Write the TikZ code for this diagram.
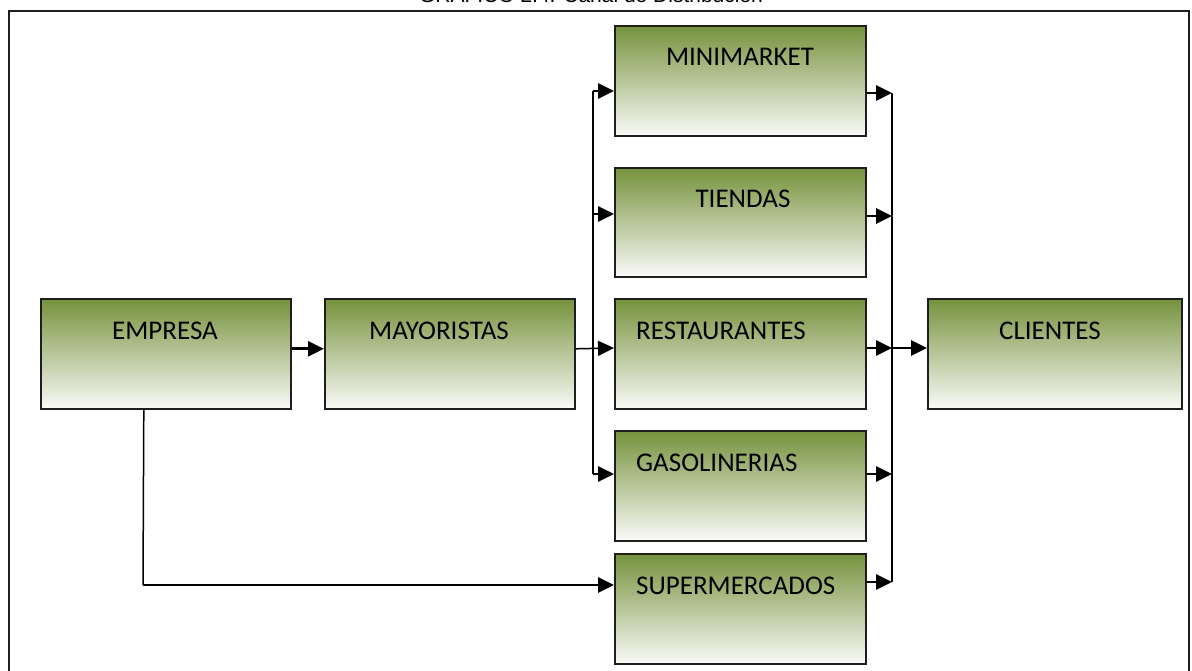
\documentclass[tikz,border=0pt]{standalone}
\usepackage{fontspec}
\setmainfont{Carlito}
\newfontfamily\titlefont{Liberation Sans}
\usetikzlibrary{arrows.meta}
\definecolor{olv}{RGB}{118,146,60}
\definecolor{olvmid}{RGB}{204,214,188}
\definecolor{olvbot}{RGB}{250,250,248}
\definecolor{edgec}{RGB}{30,30,30}
\begin{document}
\begin{tikzpicture}[x=1pt,y=-1pt,
  box/.style={draw=edgec,line width=1.6pt,top color=olv,middle color=olvmid,bottom color=olvbot,
    minimum width=250pt,minimum height=110pt,anchor=north west,inner sep=0pt},
  lbl/.style={font=\fontsize{27}{30}\selectfont,text=black,anchor=base,inner sep=0pt},
  lblw/.style={lbl,anchor=base west},
  tip/.style={-{Triangle[length=16pt,width=15pt]}},
  thk/.style={line width=2.8pt,tip},
  thn/.style={line width=1.5pt}]
\useasboundingbox (0,0) rectangle (1192,671);
\begin{scope}
\clip (0,0) rectangle (1192,671);
\node[font=\titlefont\fontsize{21}{24}\selectfont,anchor=base,inner sep=0pt] (title) at (591,3) {GRAFICO 2.4: Canal de Distribución};
\draw[line width=1.6pt,edgec] (9,700) -- (9,11) -- (1189,11) -- (1189,700);
\end{scope}

% boxes
\node[box] (emp) at (40,298) {};
\node[box] (may) at (324,298) {};
\node[box,minimum width=251pt] (mini) at (614,25) {};
\node[box,minimum width=251pt,minimum height=109pt] (tie) at (614,167) {};
\node[box,minimum width=251pt] (res) at (614,298) {};
\node[box,minimum width=251pt] (gas) at (614,430) {};
\node[box,minimum width=251pt] (sup) at (614,553) {};
\node[box,minimum width=254pt] (cli) at (927,298) {};

% labels
\node[lbl] (empt) at (165,339) {EMPRESA};
\node[lbl] (mayt) at (439,339) {MAYORISTAS};
\node[lbl] (minit) at (740,66) {MINIMARKET};
\node[lbl] (tiet) at (743,208) {TIENDAS};
\node[lblw] (rest) at (636,339) {RESTAURANTES};
\node[lblw] (gast) at (636,471) {GASOLINERIAS};
\node[lblw] (supt) at (636,594) {SUPERMERCADOS};
\node[lbl] (clit) at (1050,339) {CLIENTES};

% coordinates
\coordinate (lbt) at (593,91);
\coordinate (lb2) at (593,214);
\coordinate (lb3) at (593,348);
\coordinate (lbg) at (593,474);
\coordinate (ed) at (143,585);
\coordinate (rbt) at (892,93);
\coordinate (rb2) at (892,216);
\coordinate (rb3) at (892,348);
\coordinate (rb4) at (892,474);
\coordinate (rbb) at (892,582);

% connectors
\draw[thk] ([yshift=5pt]emp.east) -- ([yshift=5pt]may.west);
\draw[thn] (lbt) -- (lbg);
\draw[thk] (lbt) -- (mini.west |- lbt);
\draw[thk] (lb2) -- (tie.west |- lb2);
\draw[thn,tip] ([yshift=5pt]may.east) -- (res.west |- lb3);
\draw[thk] (lbg) -- (gas.west |- lbg);
\draw[thn] ([xshift=-22pt]emp.south) -- (ed);
\draw[thk] (ed) -- (sup.west |- ed);

\draw[thn] (rbt) -- (rbb);
\draw[thk] (mini.east |- rbt) -- (rbt);
\draw[thk] (tie.east |- rb2) -- (rb2);
\draw[thk] (res.east |- rb3) -- (rb3);
\draw[thk] (gas.east |- rb4) -- (rb4);
\draw[thk] (sup.east |- rbb) -- (rbb);
\draw[thk] (rb3) -- (cli.west |- rb3);
\end{tikzpicture}
\end{document}
